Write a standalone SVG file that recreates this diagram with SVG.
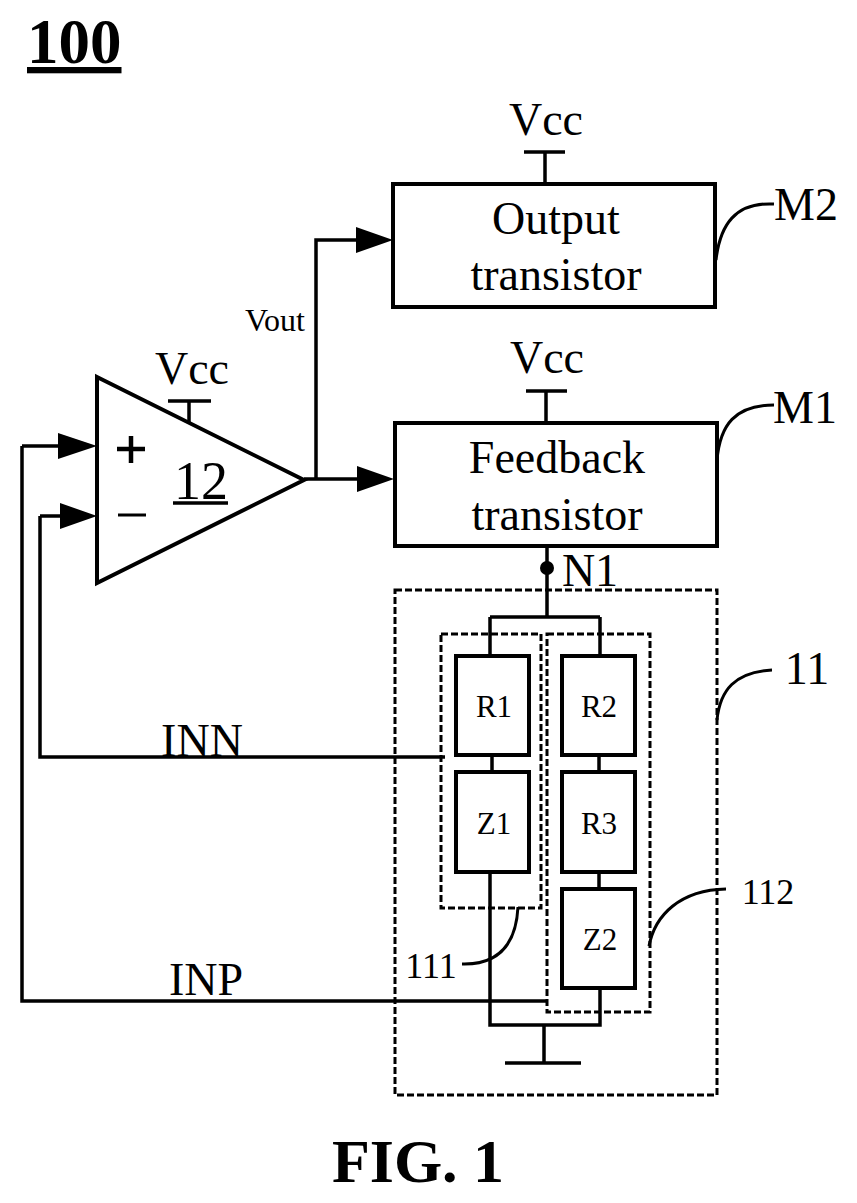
<svg xmlns="http://www.w3.org/2000/svg" width="857" height="1203" viewBox="0 0 857 1203">
<style>
text{font-family:"Liberation Serif","Times New Roman",serif;fill:#000}
.w{fill:none;stroke:#000;stroke-width:3.5}
.t{fill:none;stroke:#000;stroke-width:3}
.b{fill:#fff;stroke:#000;stroke-width:4}
.d{fill:none;stroke:#000;stroke-width:3;stroke-dasharray:7 3}
.l{font-size:46px;text-anchor:middle}
.m{font-size:31px;text-anchor:middle}
.a{fill:#000;stroke:none}
</style>
<rect width="857" height="1203" fill="#fff"/>
<g id="connectors">
<path class="w" d="M545 152V184M524 152H565"/>
<path class="w" d="M546 391V423M526 391H567"/>
<path class="w" d="M189 401V424M168 401H211"/>
<path class="w" d="M304 479H360M316 479V240H360"/>
<path class="w" d="M22 446H62M22 446V1001H547"/>
<path class="w" d="M40 516H62M40 516V757H445"/>
<path class="w" d="M547 546V617M490 617H600M490 617V656M600 617V656"/>
<path class="w" d="M492 755V772M599 755V772M599 872V889"/>
<path class="w" d="M490 872V1025H600V988M544 1025V1062M505 1063H581"/>
<circle cx="547" cy="568" r="7" class="a"/>
<path class="a" d="M356 227L393 240L356 253ZM357 466L394 479L357 492ZM58 433L97 446L58 459ZM60 503L97 516L60 529Z"/>
<path class="t" d="M716 260C720 225 735 202 774 204M717 460C720 425 735 405 774 405M717 720C720 690 735 672 772 670M649 946C655 915 680 890 726 889M518 907C516 945 498 965 462 964"/>
</g>
<g id="amp"><path class="b" d="M97 377L304 480L97 583Z"/><path style="fill:none;stroke:#000;stroke-width:4.5" d="M117 449H145M131 436V463"/><path style="fill:none;stroke:#000;stroke-width:3" d="M118 515H146"/><path class="w" d="M173 503H228"/><text x="201" y="499" style="font-size:54px;text-anchor:middle">12</text></g>
<g id="m2"><rect class="b" x="393" y="184" width="322" height="123"/><text x="556" y="234" class="l">Output</text><text x="556" y="290" class="l">transistor</text></g>
<g id="m1"><rect class="b" x="395" y="423" width="322" height="123"/><text x="557" y="473" class="l">Feedback</text><text x="557" y="530" class="l">transistor</text></g>
<g id="r1"><rect class="b" x="456" y="656" width="73" height="99"/><text x="494" y="717" class="m">R1</text></g>
<g id="z1"><rect class="b" x="456" y="772" width="73" height="100"/><text x="494" y="834" class="m">Z1</text></g>
<g id="r2"><rect class="b" x="562" y="656" width="73" height="99"/><text x="599" y="717" class="m">R2</text></g>
<g id="r3"><rect class="b" x="562" y="772" width="73" height="100"/><text x="599" y="834" class="m">R3</text></g>
<g id="z2"><rect class="b" x="562" y="889" width="73" height="99"/><text x="600" y="950" class="m">Z2</text></g>
<g id="groups"><rect class="d" x="395" y="590" width="322" height="505"/><rect class="d" x="441" y="634" width="100" height="274"/><rect class="d" x="547" y="634" width="103" height="378"/></g>
<g id="labels">
<text x="27" y="63" style="font-size:63px;font-weight:bold;text-decoration:underline">100</text>
<text x="546" y="135" class="l">Vcc</text><text x="547" y="373" class="l">Vcc</text><text x="192" y="384" class="l">Vcc</text>
<text x="275" y="331" style="font-size:32px;text-anchor:middle">Vout</text>
<text x="806" y="220" class="l">M2</text><text x="805" y="423" class="l">M1</text><text x="807" y="684" class="l">11</text>
<text x="590" y="586" class="l">N1</text><text x="768" y="904" style="font-size:36px;text-anchor:middle">112</text><text x="431" y="978" style="font-size:36px;text-anchor:middle">111</text>
<text x="202" y="756" class="l">INN</text><text x="206" y="995" class="l">INP</text>
<text x="418" y="1182" style="font-size:62px;font-weight:bold;text-anchor:middle">FIG. 1</text>
</g>
</svg>
